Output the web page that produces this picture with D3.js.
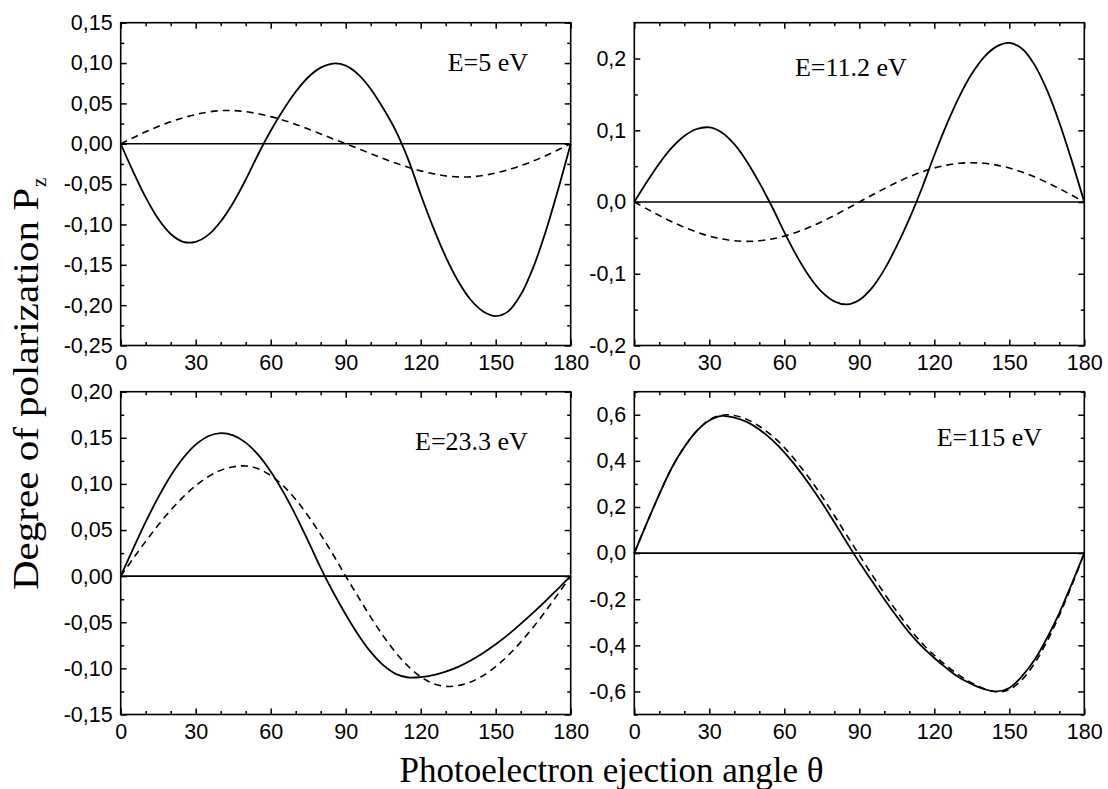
<!DOCTYPE html>
<html lang="en">
<head>
<meta charset="UTF-8">
<title>Degree of polarization</title>
<style>
  body { margin: 0; background: #fff; }
  svg { display: block; }
</style>
</head>
<body>
<script src="https://cdn.jsdelivr.net/npm/d3@7"></script>
<script>
var width = 1108, height = 789;

// photoelectron ejection angle (deg)
var angles = [0, 5, 10, 15, 20, 25, 30, 35, 40, 45, 50, 55, 60, 65, 70, 75, 80, 85, 90,
  95, 100, 105, 110, 115, 120, 125, 130, 135, 140, 145, 150, 155, 160, 165, 170, 175, 180];

var xTicks = [0, 30, 60, 90, 120, 150, 180];
var xMinor = [10, 20, 40, 50, 70, 80, 100, 110, 130, 140, 160, 170];

// E = 5 eV
var e5Solid = [0, -0.0347, -0.0665, -0.0930, -0.1118, -0.1215, -0.1215, -0.1129, -0.0963, -0.0730,
  -0.0446, -0.0130, 0.0161, 0.0418, 0.0644, 0.0824, 0.0943, 0.0994, 0.0968, 0.0860, 0.0679,
  0.0439, 0.0162, -0.0194, -0.0629, -0.1037, -0.1401, -0.1703, -0.1933, -0.2078, -0.2135,
  -0.2077, -0.1871, -0.1534, -0.1087, -0.0564, 0];
var e5Dashed = [0, 0.0075, 0.0148, 0.0214, 0.0272, 0.0322, 0.0362, 0.0393, 0.0410, 0.0411, 0.0398,
  0.0372, 0.0336, 0.0292, 0.0240, 0.0183, 0.0122, 0.0060, 0, -0.0060, -0.0122, -0.0183, -0.0240,
  -0.0292, -0.0336, -0.0372, -0.0398, -0.0411, -0.0410, -0.0393, -0.0362, -0.0322, -0.0272,
  -0.0214, -0.0148, -0.0075, 0];
var e5Ticks = [-0.25, -0.2, -0.15, -0.1, -0.05, 0, 0.05, 0.1, 0.15];
var e5Minor = [-0.225, -0.175, -0.125, -0.075, -0.025, 0.025, 0.075, 0.125];

// E = 11.2 eV
var e11Solid = [0, 0.0278, 0.0537, 0.0757, 0.0921, 0.1018, 0.1040, 0.0970, 0.0806, 0.0566, 0.0270,
  -0.0059, -0.0420, -0.0754, -0.1037, -0.1253, -0.1385, -0.1427, -0.1365, -0.1200, -0.0942,
  -0.0612, -0.0235, 0.0189, 0.0652, 0.1085, 0.1470, 0.1788, 0.2025, 0.2170, 0.2218, 0.2140,
  0.1919, 0.1566, 0.1109, 0.0574, 0];
var e11Dashed = [0, -0.0095, -0.0187, -0.0274, -0.0352, -0.0420, -0.0475, -0.0515, -0.0540, -0.0548,
  -0.0540, -0.0515, -0.0475, -0.0420, -0.0352, -0.0274, -0.0187, -0.0095, 0, 0.0095, 0.0187,
  0.0274, 0.0352, 0.0420, 0.0475, 0.0515, 0.0540, 0.0548, 0.0540, 0.0515, 0.0475, 0.0420,
  0.0352, 0.0274, 0.0187, 0.0095, 0];
var e11Ticks = [-0.2, -0.1, 0, 0.1, 0.2];
var e11Minor = [-0.15, -0.05, 0.05, 0.15];

// E = 23.3 eV
var e23Solid = [0, 0.0299, 0.0588, 0.0854, 0.1089, 0.1281, 0.1426, 0.1517, 0.1551, 0.1527, 0.1448,
  0.1315, 0.1135, 0.0914, 0.0660, 0.0380, 0.0090, -0.0175, -0.0415, -0.0634, -0.0821, -0.0965,
  -0.1059, -0.1099, -0.1095, -0.1073, -0.1035, -0.0983, -0.0914, -0.0833, -0.0739, -0.0634,
  -0.0518, -0.0396, -0.0268, -0.0134, 0];
var e23Dashed = [0, 0.0191, 0.0377, 0.0554, 0.0715, 0.0859, 0.0981, 0.1078, 0.1147, 0.1186, 0.1195,
  0.1165, 0.1092, 0.0980, 0.0831, 0.0652, 0.0450, 0.0232, 0, -0.0224, -0.0444, -0.0648, -0.0828,
  -0.0977, -0.1091, -0.1165, -0.1195, -0.1186, -0.1147, -0.1078, -0.0981, -0.0859, -0.0715,
  -0.0554, -0.0377, -0.0191, 0];
var e23Ticks = [-0.15, -0.1, -0.05, 0, 0.05, 0.1, 0.15, 0.2];
var e23Minor = [-0.125, -0.075, -0.025, 0.025, 0.075, 0.125, 0.175];

// E = 115 eV
var e115Solid = [0, 0.130, 0.255, 0.370, 0.460, 0.530, 0.575, 0.595, 0.588, 0.569, 0.536, 0.492,
  0.437, 0.372, 0.299, 0.219, 0.134, 0.046, -0.040, -0.120, -0.200, -0.275, -0.345, -0.405,
  -0.455, -0.500, -0.540, -0.568, -0.590, -0.600, -0.585, -0.535, -0.465, -0.370, -0.260, -0.133, 0];
var e115Dashed = [0, 0.130, 0.255, 0.370, 0.460, 0.530, 0.578, 0.598, 0.597, 0.580, 0.550, 0.510,
  0.458, 0.395, 0.325, 0.247, 0.163, 0.077, -0.008, -0.093, -0.175, -0.253, -0.325, -0.390,
  -0.443, -0.490, -0.530, -0.563, -0.588, -0.602, -0.592, -0.550, -0.480, -0.385, -0.270, -0.140, 0];
var e115Ticks = [-0.6, -0.4, -0.2, 0, 0.2, 0.4, 0.6];
var e115Minor = [-0.7, -0.5, -0.3, -0.1, 0.1, 0.3, 0.5, 0.7];

var energyLabels = ["E=5 eV", "E=11.2 eV", "E=23.3 eV", "E=115 eV"];

// comma decimal, plain hyphen minus
var locale = d3.formatLocale({ decimal: ",", thousands: ".", grouping: [3], currency: ["", ""], minus: "-" });

var pw = 450, ph = 322.8;
var panels = [
  { x: 120.7, y: 22.7, solid: e5Solid, dashed: e5Dashed, dom: [-0.25, 0.15], ticks: e5Ticks, minor: e5Minor, fmt: locale.format(".2f"), label: energyLabels[0], lx: 327, ly: 48.5 },
  { x: 634.3, y: 22.7, solid: e11Solid, dashed: e11Dashed, dom: [-0.2, 0.25], ticks: e11Ticks, minor: e11Minor, fmt: locale.format(".1f"), label: energyLabels[1], lx: 160.7, ly: 53.3 },
  { x: 120.7, y: 391.7, solid: e23Solid, dashed: e23Dashed, dom: [-0.15, 0.2], ticks: e23Ticks, minor: e23Minor, fmt: locale.format(".2f"), label: energyLabels[2], lx: 294.3, ly: 58.3 },
  { x: 634.3, y: 391.7, solid: e115Solid, dashed: e115Dashed, dom: [-0.7, 0.7], ticks: e115Ticks, minor: e115Minor, fmt: locale.format(".1f"), label: energyLabels[3], lx: 302.4, ly: 54.3 }
];

var svg = d3.select("body").append("svg")
  .attr("width", width)
  .attr("height", height);

var x = d3.scaleLinear().domain([0, 180]).range([0, pw]);

function styleAxis(g) {
  g.select(".domain").remove();
  g.attr("font-family", "'Liberation Sans', Arial, sans-serif").attr("font-size", 21.5);
  g.selectAll("line").attr("stroke", "#000").attr("stroke-width", 1.5);
  g.selectAll("text").attr("fill", "#000");
}

panels.forEach(function (p) {
  var y = d3.scaleLinear().domain(p.dom).range([ph, 0]);
  var g = svg.append("g").attr("transform", "translate(" + p.x + "," + p.y + ")");

  // bottom axis with labels, others only ticks (all pointing inward)
  g.append("g").attr("transform", "translate(0," + ph + ")")
    .call(d3.axisBottom(x).tickValues(xTicks).tickSize(-6).tickPadding(9).tickFormat(d3.format("d")))
    .call(styleAxis);
  g.append("g").attr("transform", "translate(0," + ph + ")")
    .call(d3.axisBottom(x).tickValues(xMinor).tickSize(-3.5).tickFormat(""))
    .call(styleAxis);
  g.append("g")
    .call(d3.axisTop(x).tickValues(xTicks).tickSize(-6).tickFormat(""))
    .call(styleAxis);
  g.append("g")
    .call(d3.axisTop(x).tickValues(xMinor).tickSize(-3.5).tickFormat(""))
    .call(styleAxis);

  g.append("g")
    .call(d3.axisLeft(y).tickValues(p.ticks).tickSize(-6).tickPadding(8).tickFormat(p.fmt))
    .call(styleAxis);
  g.append("g")
    .call(d3.axisLeft(y).tickValues(p.minor).tickSize(-3.5).tickFormat(""))
    .call(styleAxis);
  g.append("g").attr("transform", "translate(" + pw + ",0)")
    .call(d3.axisRight(y).tickValues(p.ticks).tickSize(-6).tickFormat(""))
    .call(styleAxis);
  g.append("g").attr("transform", "translate(" + pw + ",0)")
    .call(d3.axisRight(y).tickValues(p.minor).tickSize(-3.5).tickFormat(""))
    .call(styleAxis);

  g.append("rect")
    .attr("width", pw).attr("height", ph)
    .attr("fill", "none").attr("stroke", "#000").attr("stroke-width", 1.6);

  // zero line
  g.append("line")
    .attr("x1", x(0)).attr("x2", x(180))
    .attr("y1", y(0)).attr("y2", y(0))
    .attr("stroke", "#000").attr("stroke-width", 1.6);

  var line = d3.line()
    .x(function (d, i) { return x(angles[i]); })
    .y(function (d) { return y(d); })
    .curve(d3.curveCatmullRom.alpha(0.5));

  g.append("path").datum(p.dashed)
    .attr("d", line)
    .attr("fill", "none").attr("stroke", "#000").attr("stroke-width", 1.6)
    .attr("stroke-dasharray", "7,5");
  g.append("path").datum(p.solid)
    .attr("d", line)
    .attr("fill", "none").attr("stroke", "#000").attr("stroke-width", 1.8);

  g.append("text")
    .attr("x", p.lx).attr("y", p.ly)
    .attr("font-family", "'Liberation Serif', 'Times New Roman', serif")
    .attr("font-size", 26)
    .text(p.label);
});

// axis titles
svg.append("text")
  .attr("x", 611.5).attr("y", 782)
  .attr("text-anchor", "middle")
  .attr("font-family", "'Liberation Serif', 'Times New Roman', serif")
  .attr("font-size", 35)
  .text("Photoelectron ejection angle \u03b8");

var yt = svg.append("text")
  .attr("transform", "translate(38,188) rotate(-90)")
  .attr("font-family", "'Liberation Serif', 'Times New Roman', serif")
  .attr("font-size", 35);
yt.append("tspan")
  .attr("x", -402)
  .attr("textLength", 402).attr("lengthAdjust", "spacingAndGlyphs")
  .text("Degree of polarization P");
yt.append("tspan").attr("font-size", 21).attr("dx", 1).attr("dy", 8).text("z");
</script>
</body>
</html>
